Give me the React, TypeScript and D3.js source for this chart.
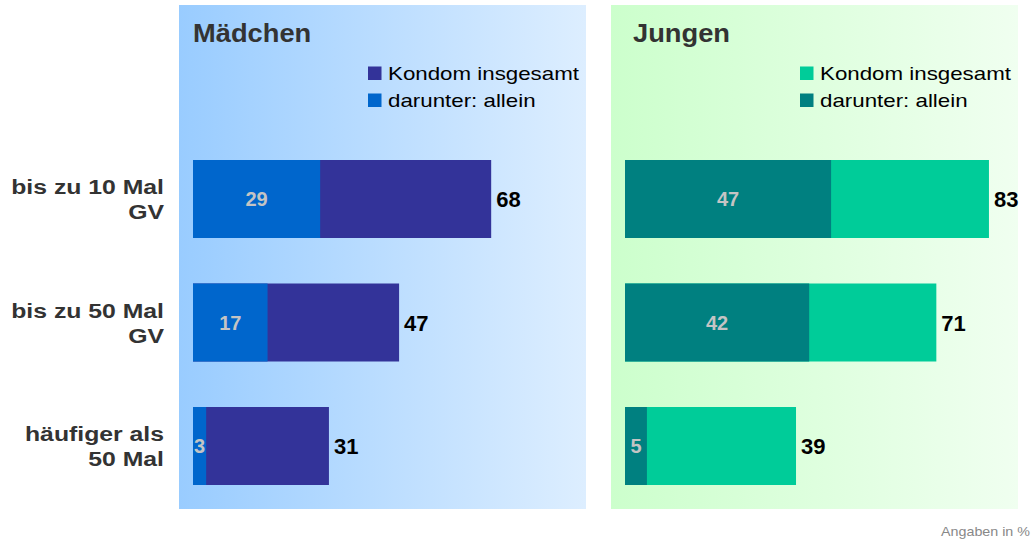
import React from "react";
import * as d3 from "d3";

const categories = [["bis zu 10 Mal", "GV"], ["bis zu 50 Mal", "GV"], ["häufiger als", "50 Mal"]];
const maedchenTotal = [68, 47, 31];
const maedchenAllein = [29, 17, 3];
const jungenTotal = [83, 71, 39];
const jungenAllein = [47, 42, 5];
const legendLabels = ["Kondom insgesamt", "darunter: allein"];

const FONT = "'Liberation Sans', Arial, sans-serif";

const panels = [
  { title: "Mädchen", x: 179, total: maedchenTotal, allein: maedchenAllein, cTotal: "#333399", cAllein: "#0066cc", g0: "#99ccff", g1: "#ddeeff", id: "gm", tx: 14 },
  { title: "Jungen", x: 611, total: jungenTotal, allein: jungenAllein, cTotal: "#00cc99", cAllein: "#008080", g0: "#ccffcc", g1: "#f0fff0", id: "gj", tx: 22 },
];

function T(props: { x: number; y: number; sx?: number; anchor?: string; size: number; bold?: boolean; fill: string; children: any }) {
  const { x, y, sx = 1, anchor = "start", size, bold, fill, children } = props;
  return (
    <g transform={`translate(${x},${y}) scale(${sx},1)`}>
      <text x={0} y={0} textAnchor={anchor} fontSize={size} fontWeight={bold ? "bold" : "normal"} fill={fill}>{children}</text>
    </g>
  );
}

export default function App() {
  const W = 1033, H = 539;
  const panelW = 407, panelY = 5, panelH = 504;
  const yPos = d3.scaleLinear().domain([0, 2]).range([160, 407]);
  const bw = 78;
  return (
    <svg width={W} height={H} style={{ position: "absolute", left: 0, top: 0, fontFamily: FONT }}>
      <defs>
        {panels.map((p) => (
          <linearGradient key={p.id} id={p.id} x1="0" x2="1" y1="0" y2="0">
            <stop offset="0" stopColor={p.g0} />
            <stop offset="1" stopColor={p.g1} />
          </linearGradient>
        ))}
      </defs>
      {panels.map((p) => (
        <rect key={p.id} x={p.x} y={panelY} width={panelW} height={panelH} fill={`url(#${p.id})`} />
      ))}
      {categories.map((c, i) => {
        const by = yPos(i);
        return (
          <g key={i}>
            <T x={164} y={by + 34} sx={1.18} anchor="end" size={21} bold fill="#333">{c[0]}</T>
            <T x={164} y={by + 59} sx={1.18} anchor="end" size={21} bold fill="#333">{c[1]}</T>
          </g>
        );
      })}
      {panels.map((p) => {
        const x0 = p.x + 14;
        const xs = d3.scaleLinear().domain([0, 100]).range([x0, x0 + 438.5]);
        return (
          <g key={p.id}>
            <T x={p.x + p.tx} y={42} sx={1.05} size={26} bold fill="#333">{p.title}</T>
            {legendLabels.map((l, k) => (
              <g key={k}>
                <rect x={p.x + 189} y={66.5 + k * 27} width={13.5} height={13.5} fill={k === 0 ? p.cTotal : p.cAllein} />
                <T x={p.x + 209} y={79.5 + k * 27} sx={1.24} size={18} fill="#000">{l}</T>
              </g>
            ))}
            {p.total.map((v, i) => {
              const by = yPos(i);
              const a = p.allein[i];
              return (
                <g key={i}>
                  <rect x={xs(0)} y={by} width={xs(v) - xs(0)} height={bw} fill={p.cTotal} />
                  <rect x={xs(0)} y={by} width={xs(a) - xs(0)} height={bw} fill={p.cAllein} />
                  <T x={(xs(0) + xs(a)) / 2} y={by + bw / 2 + 7} anchor="middle" size={20} bold fill="#c4c4c4">{a}</T>
                  <T x={xs(v) + 5} y={by + bw / 2 + 8} size={22} bold fill="#000">{v}</T>
                </g>
              );
            })}
          </g>
        );
      })}
      <T x={1030} y={536} anchor="end" sx={1.1} size={13} fill="#888">Angaben in %</T>
    </svg>
  );
}
